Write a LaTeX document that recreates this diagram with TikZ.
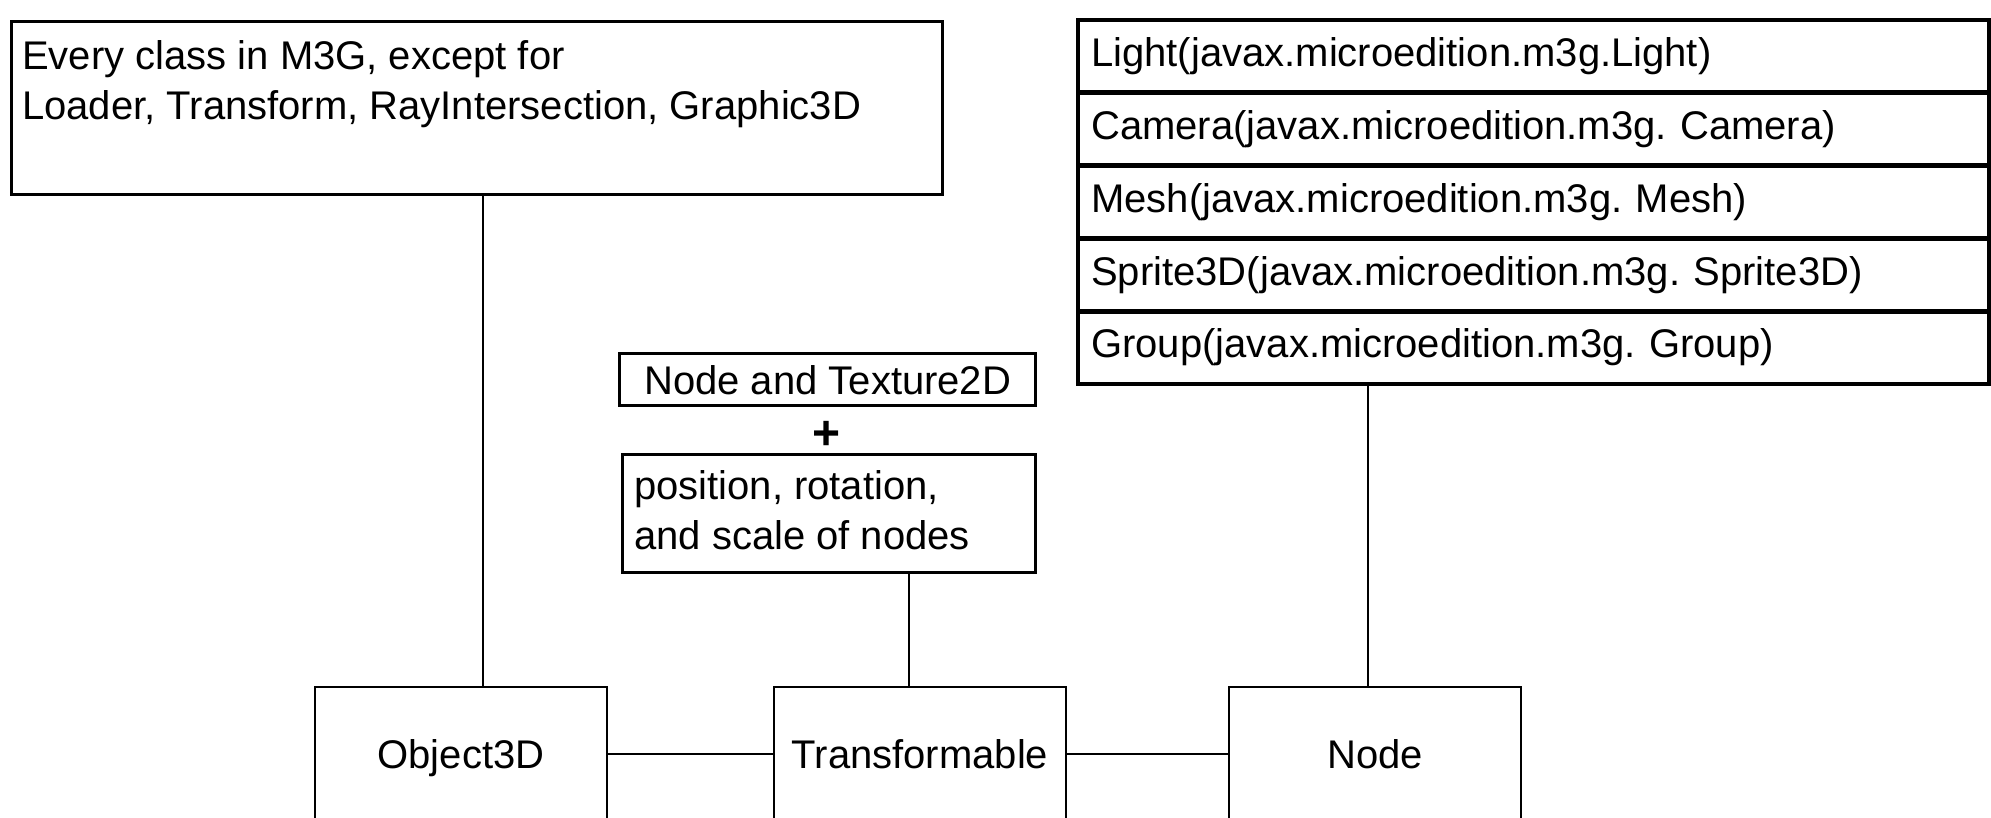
\documentclass[tikz,border=0pt]{standalone}
\usepackage{fontspec}
\setmainfont{Liberation Sans}
\begin{document}
\frenchspacing
\begin{tikzpicture}[x=1pt,y=1pt,
  heavybox/.style={draw, line width=3.4pt, inner sep=0pt},
  classbox/.style={draw, line width=1.6pt, inner sep=0pt, minimum width=292pt, minimum height=134pt, anchor=north,
    text height=29pt, text depth=0pt, font=\fontsize{40}{48}\selectfont},
  rowbox/.style={draw, line width=2.4pt, anchor=north west, minimum width=909pt, minimum height=70.4pt,
    inner xsep=12pt, inner ysep=0pt, text width=885pt, align=left, font=\fontsize{40}{48}\selectfont},
  txt/.style={font=\fontsize{40}{50}\selectfont, inner sep=0pt},
  wire/.style={line width=1.5pt},
]
\useasboundingbox (0,0) rectangle (1991,-817);

% scope note
\node[heavybox, anchor=north west, minimum width=931pt, minimum height=173pt] (every) at (10,-20) {};
\node[txt, align=left, anchor=north west] (everyt) at (22,-40)
  {Every class in M3G, except for\\Loader, Transform, RayIntersection, Graphic3D};

% node subclasses
\node[rowbox] (light) at (1078,-20) {Light(javax.microedition.m3g.Light)};
\node[rowbox] (camera) at (light.south west) {Camera(javax.microedition.m3g. Camera)};
\node[rowbox] (mesh) at (camera.south west) {Mesh(javax.microedition.m3g. Mesh)};
\node[rowbox] (sprite) at (mesh.south west) {Sprite3D(javax.microedition.m3g. Sprite3D)};
\node[rowbox] (group) at (sprite.south west) {Group(javax.microedition.m3g. Group)};
\draw[line width=3.6pt] (light.north west) rectangle (group.south east);

% transformable note
\node[heavybox, anchor=north west, minimum width=416pt, minimum height=52pt, txt] (tex) at (618,-352) {Node and Texture2D};
\node[font=\fontsize{48}{48}\selectfont\bfseries, inner sep=0pt] (plus) at (827,-435) {+};
\node[heavybox, anchor=north west, minimum width=413pt, minimum height=118pt] (pos) at (621,-453) {};
\node[txt, align=left, anchor=north west] (post) at (634,-470) {position, rotation,\\and scale of nodes};

% class chain
\node[classbox] (obj) at (461,-686) {Object3D};
\node[classbox] (trans) at (920,-686) {Transformable};
\node[classbox] (node) at (1375,-686) {Node};

\coordinate (xa) at (483,0);
\coordinate (xb) at (909,0);
\coordinate (xc) at (1368,0);
\draw[wire] (every.south -| xa) -- (obj.north -| xa);
\draw[wire] (pos.south -| xb) -- (trans.north -| xb);
\draw[wire] (group.south -| xc) -- (node.north -| xc);
\draw[wire] (obj.east) -- (trans.west);
\draw[wire] (trans.east) -- (node.west);
\end{tikzpicture}
\end{document}
